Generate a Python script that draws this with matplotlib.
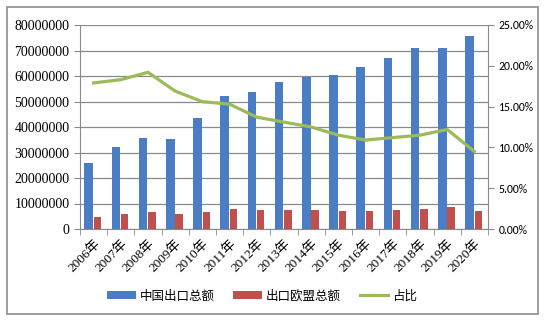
import matplotlib
matplotlib.use("Agg")
import matplotlib.pyplot as plt
import numpy as np
from matplotlib.ticker import FuncFormatter, MultipleLocator
from matplotlib.patches import Rectangle

years = ["2006年", "2007年", "2008年", "2009年", "2010年", "2011年", "2012年", "2013年",
         "2014年", "2015年", "2016年", "2017年", "2018年", "2019年", "2020年"]
china_export = [26.0, 32.2, 35.8, 35.2, 43.4, 52.0, 53.6, 57.5, 59.7, 60.4, 63.6, 67.2, 71.1, 71.1, 75.7]
eu_export = [4.6, 5.9, 6.8, 5.8, 6.5, 7.7, 7.3, 7.3, 7.6, 6.9, 6.9, 7.6, 8.0, 8.5, 7.1]
ratio = [17.9, 18.3, 19.2, 16.9, 15.6, 15.3, 13.7, 13.1, 12.5, 11.5, 10.9, 11.2, 11.5, 12.2, 9.5]

china_vals = np.array(china_export) * 1e6
eu_vals = np.array(eu_export) * 1e6
ratio_vals = np.array(ratio) / 100

cjk = ['Noto Sans CJK SC', 'DejaVu Sans']
serif = ['Liberation Serif', 'Noto Sans CJK SC']

fig = plt.figure(figsize=(5.5, 3.25), dpi=100)
fig.patches.append(Rectangle((7/550, 1-314/325), (538-7)/550, (314-7)/325,
                             transform=fig.transFigure, fill=False, edgecolor='#8c8c8c', lw=1.2))
ax = fig.add_axes([80/550, 1-229/325, (488-80)/550, (229-25)/325])
x = np.arange(len(years))
w = 0.32
blue = '#4A7DC3'
red = '#C0504D'
green = '#9BBB59'
ax.bar(x - w/2 - 0.02, china_vals, w, color=blue, label='中国出口总额', zorder=3)
ax.bar(x + w/2 - 0.02, eu_vals, w*0.85, color=red, label='出口欧盟总额', zorder=3)
ax.set_xlim(-0.5, len(years) - 0.5)
ax.set_ylim(0, 80e6)
ax.yaxis.set_major_locator(MultipleLocator(10e6))
ax.yaxis.set_major_formatter(FuncFormatter(lambda v, p: f"{int(round(v))}"))
ax.grid(axis='y', color='#8a8a8a', lw=0.9, zorder=0)
ax.set_xticks(x)
ax.set_xticklabels(years, rotation=45, ha='right', rotation_mode='anchor', family=serif, fontsize=9.5)
ax.set_xticks(np.arange(-0.5, len(years), 1), minor=True)
ax.tick_params(axis='x', which='major', length=0, pad=6)
ax.tick_params(axis='x', which='minor', length=4, color='#8a8a8a', direction='out')
ax.tick_params(axis='y', length=4, color='#8a8a8a', labelsize=10)
for lab in ax.get_yticklabels():
    lab.set_family(serif)
for s in ['top', 'right']:
    ax.spines[s].set_visible(False)
ax.spines['left'].set_color('#8a8a8a')
ax.spines['bottom'].set_color('#8a8a8a')

ax2 = ax.twinx()
ax2.plot(x, ratio_vals, color=green, lw=2.3, label='占比', zorder=4)
ax2.set_ylim(0, 0.25)
ax2.yaxis.set_major_locator(MultipleLocator(0.05))
ax2.yaxis.set_major_formatter(FuncFormatter(lambda v, p: f"{v*100:.2f}%"))
ax2.tick_params(axis='y', length=4, color='#8a8a8a', labelsize=8.5)
for lab in ax2.get_yticklabels():
    lab.set_family(['Carlito', 'Liberation Sans', 'DejaVu Sans'])
for s in ['top', 'left']:
    ax2.spines[s].set_visible(False)
ax2.spines['right'].set_color('#8a8a8a')
ax2.spines['bottom'].set_visible(False)

h1, l1 = ax.get_legend_handles_labels()
h2, l2 = ax2.get_legend_handles_labels()
fig.legend(h1 + h2, l1 + l2, loc='center', bbox_to_anchor=(262/550, 1-296/325), ncol=3,
           frameon=False, prop={'family': cjk, 'size': 9}, handlelength=2.3, handleheight=0.6,
           columnspacing=1.5, handletextpad=0.3)

fig.savefig('out.png', dpi=100)
